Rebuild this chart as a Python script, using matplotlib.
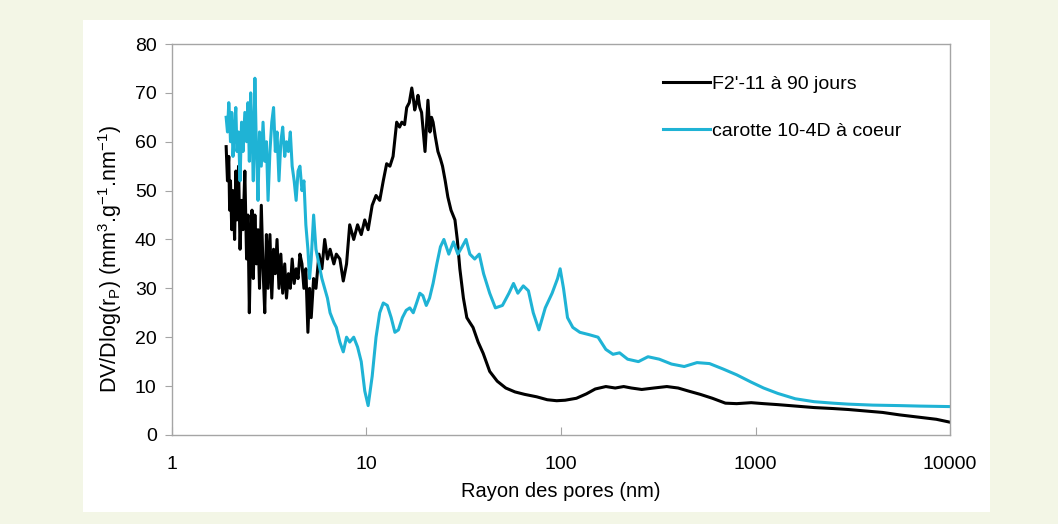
import matplotlib
matplotlib.use("Agg")
import matplotlib.pyplot as plt

plt.rcParams['font.family'] = ['Liberation Sans', 'DejaVu Sans']
plt.rcParams['mathtext.fontset'] = 'custom'
plt.rcParams['mathtext.rm'] = 'Liberation Sans'
plt.rcParams['mathtext.it'] = 'Liberation Sans:italic'

# Rayon des pores (nm) / DV/Dlog(rp)
black_x = [1.90, 1.93, 1.96, 1.98, 2.00, 2.03, 2.06, 2.10, 2.13, 2.16,
           2.20, 2.24, 2.28, 2.32, 2.37, 2.42, 2.46, 2.50, 2.54, 2.58,
           2.62, 2.67, 2.72, 2.77, 2.82, 2.88, 2.94, 3.00, 3.06, 3.12,
           3.19, 3.26, 3.33, 3.40, 3.47, 3.55, 3.63, 3.71, 3.80, 3.88,
           3.97, 4.06, 4.15, 4.25, 4.35, 4.45, 4.55, 4.66, 4.77, 4.88,
           5.00, 5.10, 5.20, 5.35, 5.5, 5.7, 5.9, 6.1, 6.3, 6.5,
           6.8, 7.0, 7.3, 7.6, 7.9, 8.2, 8.6, 9.0, 9.4, 9.8,
           10.2, 10.7, 11.2, 11.7, 12.2, 12.7, 13.2, 13.7, 14.3, 14.8,
           15.2, 15.7, 16.1, 16.6, 17.1, 17.4, 17.7, 18.1, 18.4, 18.8,
           19.2, 19.6, 20.0, 20.4, 20.7, 21.2, 21.6, 22.0, 22.6, 23.3,
           24.0, 24.6, 25.4, 26.2, 27.2, 28.5, 29.3, 30.2, 31.5, 32.8,
           34.0, 35.3, 37.5, 39.8, 43, 47, 52, 58, 65, 75,
           85, 95, 105, 120, 135, 150, 170, 190, 210, 230,
           260, 300, 350, 400, 450, 520, 600, 700, 800, 950,
           1100, 1300, 1600, 2000, 2500, 3000, 3700, 4500, 5500, 7000,
           8500, 10000]
black_y = [59, 52, 57, 46, 52, 42, 50, 40, 54, 44,
           55, 38, 48, 42, 54, 36, 45, 25, 40, 46,
           32, 45, 35, 42, 30, 47, 34, 25, 41, 30,
           41, 28, 38, 33, 40, 30, 37, 29, 35, 28,
           33, 30, 36, 31, 34, 32, 37, 35, 30, 34,
           21, 30, 24, 32, 30, 37, 34, 40, 36, 38,
           35, 37, 36, 31.5, 35, 43, 40, 43, 41, 44,
           42, 47, 49, 48, 52, 55.5, 55, 57, 64, 63,
           64, 63.5, 67, 68, 71, 69, 66.5, 68, 69.5, 67,
           66, 62, 58, 64, 68.5, 62, 65, 64, 61, 58,
           56.5, 55, 52, 48.7, 46, 44, 40, 34, 28, 24,
           23, 22, 19, 16.7, 13, 11, 9.6, 8.8, 8.3, 7.8,
           7.2, 7.0, 7.1, 7.5, 8.4, 9.4, 9.9, 9.6, 9.9, 9.6,
           9.3, 9.6, 9.9, 9.6, 9.0, 8.3, 7.5, 6.5, 6.4, 6.6,
           6.4, 6.2, 5.9, 5.6, 5.4, 5.2, 4.9, 4.6, 4.1, 3.6,
           3.2, 2.6]

cyan_x = [1.90, 1.93, 1.96, 1.98, 2.00, 2.03, 2.06, 2.10, 2.13, 2.16,
          2.20, 2.24, 2.28, 2.32, 2.37, 2.42, 2.46, 2.50, 2.54, 2.58,
          2.62, 2.67, 2.72, 2.77, 2.82, 2.88, 2.94, 3.00, 3.06, 3.12,
          3.19, 3.26, 3.33, 3.40, 3.47, 3.55, 3.63, 3.71, 3.80, 3.88,
          3.97, 4.06, 4.15, 4.25, 4.35, 4.45, 4.55, 4.66, 4.77, 4.88,
          5.00, 5.10, 5.20, 5.35, 5.5, 5.7, 5.9, 6.1, 6.3, 6.5,
          6.8, 7.0, 7.3, 7.6, 7.9, 8.2, 8.6, 9.0, 9.4, 9.8,
          10.2, 10.7, 11.2, 11.7, 12.2, 12.8, 13.4, 14.0, 14.6, 15.3,
          16.0, 16.7, 17.4, 18.1, 18.8, 19.5, 20.3, 21.1, 22.0, 23.0,
          24.0, 25.0, 26.5, 28.0, 29.5, 31.0, 32.5, 34.0, 36.0, 38.0,
          40, 43, 46, 50, 54, 57, 60, 64, 68, 72,
          77, 83, 90, 96, 99, 103, 108, 115, 125, 140,
          155, 170, 185, 200, 220, 250, 280, 320, 370, 430,
          500, 580, 680, 800, 950, 1100, 1300, 1600, 2000, 2500,
          3000, 4000, 5500, 7000, 10000]
cyan_y = [65, 62, 68, 65, 60, 66, 57, 63, 67, 58,
          62, 52, 64, 58, 66, 60, 68, 56, 70, 62,
          52, 73, 58, 48, 62, 55, 64, 56, 60, 48,
          58, 64, 67, 58, 62, 52, 60, 63, 57, 60,
          58, 62, 55, 52, 48, 54, 55, 50, 52, 43,
          38, 32, 36, 45, 38, 35, 32, 30, 28, 25,
          23, 22, 19, 17, 20, 19, 20, 18, 15, 9,
          6, 12, 20, 25, 27, 26.5, 24, 21, 21.5, 24,
          25.5, 26, 25, 27, 29, 28.5, 26.5, 28, 31, 35,
          38.5, 40, 37, 39.5, 37, 38.5, 40, 37, 36, 37,
          33, 29, 26, 26.5, 29, 31, 29, 30.5, 29.5, 25,
          21.5, 26, 29, 32, 34, 30, 24, 22, 21, 20.5,
          20, 17.5, 16.5, 16.8, 15.5, 15, 16, 15.5, 14.5, 14,
          14.8, 14.6, 13.5, 12.3, 10.8, 9.6, 8.5, 7.4, 6.8, 6.5,
          6.3, 6.1, 6.0, 5.9, 5.8]

labels = ["F2'-11 à 90 jours", "carotte 10-4D à coeur"]
colors = ['#000000', '#1fb3d5']
x_ticks = [1, 10, 100, 1000, 10000]
y_ticks = [0, 10, 20, 30, 40, 50, 60, 70, 80]

fig = plt.figure(figsize=(10.58, 5.24), dpi=100)
fig.patch.set_facecolor('#f3f6e6')

# panneau blanc derrière le graphique
bg = fig.add_axes([0.0785, 0.023, 0.857, 0.939])
bg.set_facecolor('white')
bg.set_xticks([])
bg.set_yticks([])
for s in bg.spines.values():
    s.set_visible(False)

ax = fig.add_axes([0.1625, 0.170, 0.7355, 0.746])
ax.set_facecolor('white')
ax.plot(black_x, black_y, color=colors[0], lw=2.2, label=labels[0])
ax.plot(cyan_x, cyan_y, color=colors[1], lw=2.2, label=labels[1])

ax.set_xscale('log')
ax.set_xlim(1, 10000)
ax.set_ylim(0, 80)
ax.set_xticks(x_ticks)
ax.set_xticklabels([str(t) for t in x_ticks])
ax.minorticks_off()
ax.set_yticks(y_ticks)

for s in ax.spines.values():
    s.set_color('#a5a5a5')
    s.set_linewidth(1.0)
ax.tick_params(axis='y', direction='out', length=5, color='#a5a5a5', labelsize=14, pad=6)
ax.tick_params(axis='x', direction='in', length=6, color='#a5a5a5', labelsize=14, pad=15)

ax.set_xlabel('Rayon des pores (nm)', fontsize=14.5, labelpad=7)
ax.set_ylabel(r'DV/Dlog(r$_{\mathrm{P}}$) (mm$^{3}$.g$^{-1}$.nm$^{-1}$)', fontsize=15.5)
ax.yaxis.set_label_coords(-0.061, 0.45)

ax.legend(loc='upper left', bbox_to_anchor=(0.610, 0.89), bbox_transform=fig.transFigure,
          frameon=False, fontsize=14, handlelength=2.42, handletextpad=0.1, labelspacing=1.5)

plt.savefig('out.png', dpi=100, facecolor=fig.get_facecolor())
